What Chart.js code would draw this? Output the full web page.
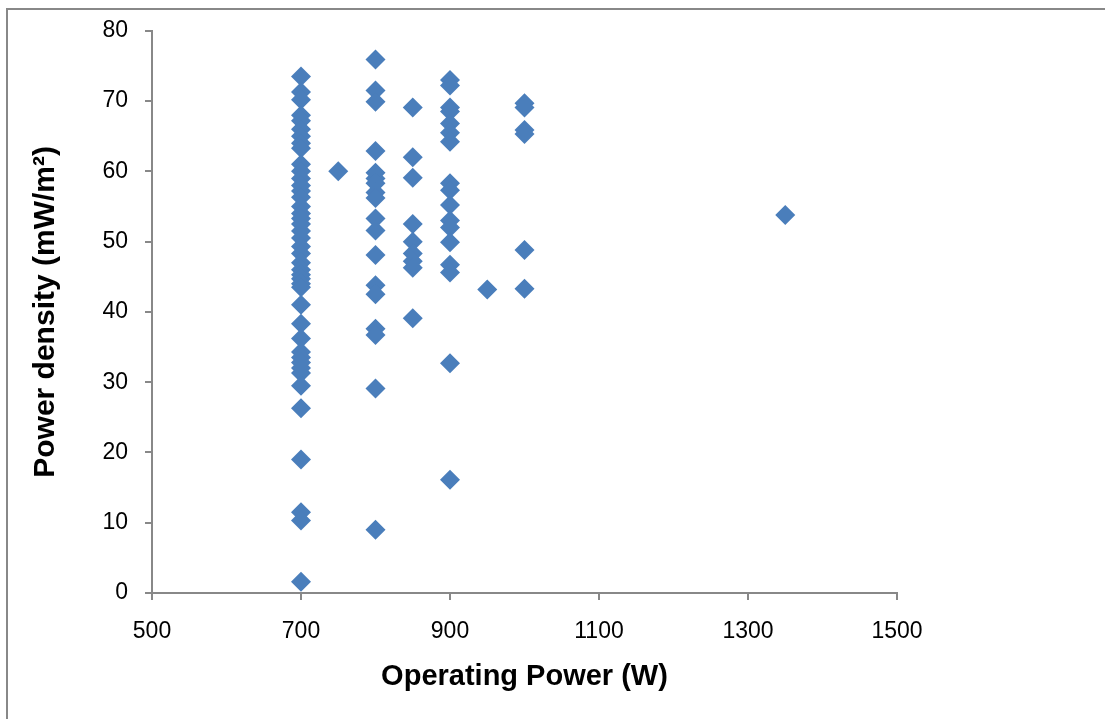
<!DOCTYPE html>
<html>
<head>
<meta charset="utf-8">
<script src="https://cdn.jsdelivr.net/npm/chart.js@4/dist/chart.umd.min.js"></script>
<style>
  html,body{margin:0;padding:0;background:#fff;overflow:hidden}
  .frame{position:absolute;left:6px;top:8px;width:1200px;height:800px;border:2px solid #888;box-sizing:border-box}
  .wrap{position:absolute;left:0;top:0;width:1105px;height:719px}
</style>
</head>
<body>
<div class="frame"></div>
<div class="wrap"><canvas id="c" width="1105" height="719"></canvas></div>
<script>
// operating power levels (W) and power density readings (mW/m2) at each
const power700 = [73.5,71.3,70.2,68.0,67.2,66.0,65.0,64.0,63.3,61.0,60.0,59.0,58.0,57.2,56.3,55.0,54.0,53.3,52.5,51.5,50.5,49.3,48.3,47.0,46.0,45.3,44.7,44.0,43.5,41.0,38.3,36.2,34.3,33.5,32.8,32.0,31.3,29.5,26.3,19.0,11.5,10.3,1.6];
const power750 = [60.0];
const power800 = [75.9,71.5,69.9,62.9,59.8,59.0,58.3,57.0,56.2,53.3,51.6,48.1,43.8,42.5,37.6,36.7,29.1,9.0];
const power850 = [69.1,62.0,59.1,52.5,50.0,48.3,47.2,46.3,39.1];
const power900 = [73.0,72.2,69.1,68.5,66.8,65.5,64.2,58.3,57.3,55.2,53.0,52.0,49.9,46.7,45.6,32.7,16.1];
const power950 = [43.2];
const power1000 = [69.7,69.1,65.9,65.3,48.8,43.3];
const power1350 = [53.8];

const levels = [700,750,800,850,900,950,1000,1350];
const readings = [power700,power750,power800,power850,power900,power950,power1000,power1350];

const xTicks = [500,700,900,1100,1300,1500];
const yTicks = [0,10,20,30,40,50,60,70,80];

const points = [];
levels.forEach((lv,i)=>{
  readings[i].forEach(v=>points.push({x:lv,y:v}));
});

const ctx = document.getElementById('c').getContext('2d');
new Chart(ctx,{
  type:'scatter',
  data:{
    datasets:[{
      data:points,
      pointStyle:'rectRot',
      pointRadius:10,
      pointHoverRadius:10,
      backgroundColor:'#4A7EBB',
      borderColor:'#4A7EBB',
      borderWidth:0
    }]
  },
  options:{
    responsive:false,
    animation:false,
    layout:{padding:{left:0,right:208,top:25,bottom:0}},
    plugins:{legend:{display:false},tooltip:{enabled:false}},
    scales:{
      x:{
        type:'linear',min:500,max:1500,
        afterBuildTicks:s=>{s.ticks=xTicks.map(v=>({value:v}))},
        afterFit:s=>{s.height=126},
        grid:{drawOnChartArea:false,drawTicks:true,tickLength:7,color:'#888',lineWidth:2},
        border:{display:true,color:'#888',width:2},
        ticks:{color:'#000',font:{family:'Liberation Sans',size:23},padding:18,maxRotation:0,
          callback:v=>String(v)},
        title:{display:true,text:'Operating Power (W)',color:'#000',
          font:{family:'Liberation Sans',size:29,weight:'bold'},padding:{top:4,bottom:25}}
      },
      y:{
        type:'linear',min:0,max:80,
        afterBuildTicks:s=>{s.ticks=yTicks.map(v=>({value:v}))},
        afterFit:s=>{s.width=152},
        grid:{drawOnChartArea:false,drawTicks:true,tickLength:7,color:'#888',lineWidth:2},
        border:{display:true,color:'#888',width:2},
        ticks:{color:'#000',font:{family:'Liberation Sans',size:23},padding:17,
          callback:v=>String(v)},
        title:{display:true,text:'Power density (mW/m²)',color:'#000',
          font:{family:'Liberation Sans',size:30,weight:'bold'},padding:{top:28}}
      }
    }
  }
});
</script>
</body>
</html>
